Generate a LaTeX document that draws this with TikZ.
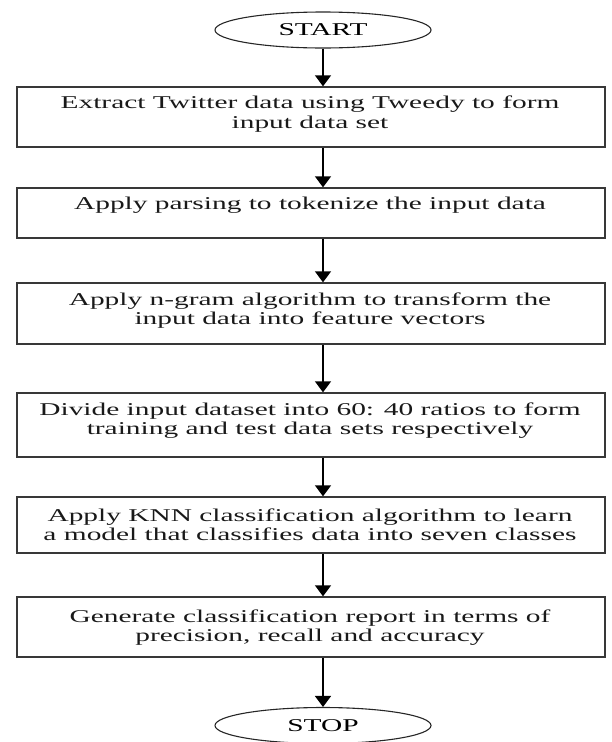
\documentclass[tikz,border=0pt]{standalone}
\usepackage{fontspec}
\setmainfont{Liberation Serif}[FakeStretch=1.633]
\usetikzlibrary{arrows.meta,shapes.geometric}
\begin{document}
\begin{tikzpicture}[x=1pt,y=-1pt,
  box/.style={draw=black!78, line width=1.4pt, minimum width=588pt, inner sep=0pt},
  term/.style={ellipse, draw=black!85, line width=1.1pt, minimum width=216pt, minimum height=36pt, inner sep=0pt, font=\fontsize{18}{18.5}\selectfont},
  lbl/.style={anchor=base, inner sep=0pt, font=\fontsize{18}{18.5}\selectfont, text=black!90},
  arr/.style={line width=1.6pt, -{Triangle[length=11pt,width=16pt]}}]
\useasboundingbox (0,0) rectangle (612,742);
% terminals
\node[term] (start) at (323,30) {START};
\node[term] (stop) at (323,725.5) {STOP};
% boxes
\node[box, minimum height=60pt] (b1) at (311,117) {};
\node[box, minimum height=50pt] (b2) at (311,213) {};
\node[box, minimum height=61pt] (b3) at (311,313.5) {};
\node[box, minimum height=64pt] (b4) at (311,425) {};
\node[box, minimum height=56pt] (b5) at (311,525) {};
\node[box, minimum height=60pt] (b6) at (311,627) {};
% texts
\node[lbl] (t1a) at (310,108.5) {Extract Twitter data using Tweedy to form};
\node[lbl] (t1b) at (310,128.5) {input data set};
\node[lbl] (t2a) at (310,209) {Apply parsing to tokenize the input data};
\node[lbl] (t3a) at (310,305) {Apply n-gram algorithm to transform the};
\node[lbl] (t3b) at (310,324) {input data into feature vectors};
\node[lbl] (t4a) at (310,415) {Divide input dataset into 60: 40 ratios to form};
\node[lbl] (t4b) at (310,434) {training and test data sets respectively};
\node[lbl] (t5a) at (310,521) {Apply KNN classification algorithm to learn};
\node[lbl] (t5b) at (310,540) {a model that classifies data into seven classes};
\node[lbl] (t6a) at (310,622) {Generate classification report in terms of};
\node[lbl] (t6b) at (310,641) {precision, recall and accuracy};
% connectors
\draw[arr] (start.south) -- (start.south |- b1.north);
\draw[arr] (b1.south -| start.south) -- (b2.north -| start.south);
\draw[arr] (b2.south -| start.south) -- (b3.north -| start.south);
\draw[arr] (b3.south -| start.south) -- (b4.north -| start.south);
\draw[arr] (b4.south -| start.south) -- (b5.north -| start.south);
\draw[arr] (b5.south -| start.south) -- (b6.north -| start.south);
\draw[arr] (b6.south -| stop.north) -- (stop.north);
\end{tikzpicture}
\end{document}
